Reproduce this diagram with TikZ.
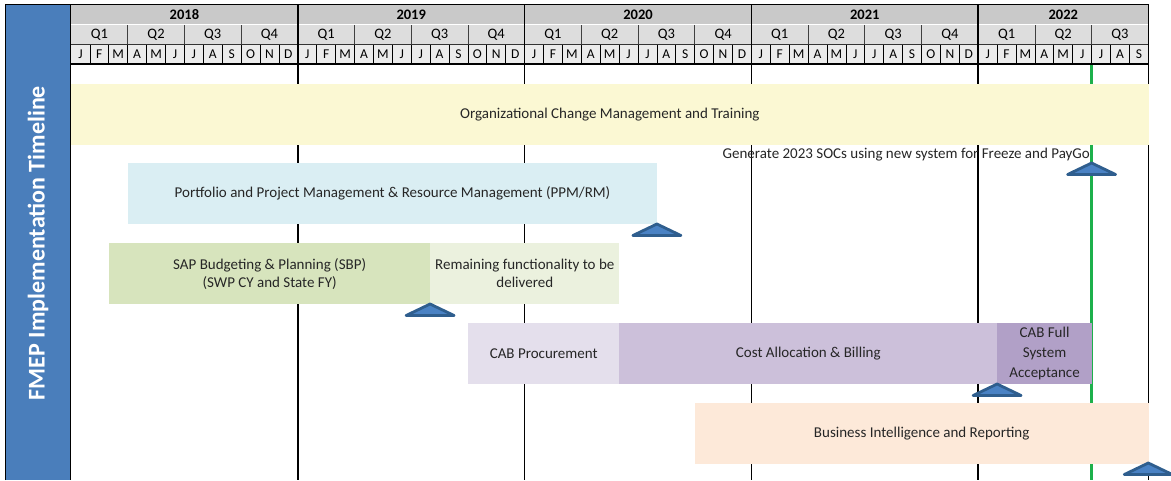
\documentclass[tikz,border=0pt]{standalone}
\usepackage{fontspec}
\setmainfont{Carlito}
\begin{document}
\begin{tikzpicture}[x=1pt,y=-1pt,
  bar/.style={draw=none,inner sep=0pt,font=\fontsize{15}{18}\selectfont,align=center,text=black!85},
  hdr/.style={inner sep=0pt,font=\fontsize{14.5}{16}\selectfont},
  ylab/.style={inner sep=0pt,font=\fontsize{14.5}{16}\selectfont\bfseries},
  mlab/.style={inner sep=0pt,font=\fontsize{13.5}{15}\selectfont},
  ms/.style={draw=msline,fill=msfill,line width=2.8pt,line join=round}
]
\definecolor{band}{HTML}{4A7EBB}
\definecolor{ocm}{HTML}{FBF8D3}
\definecolor{ppm}{HTML}{DAEEF3}
\definecolor{sbp}{HTML}{D7E4BD}
\definecolor{rem}{HTML}{EBF1DE}
\definecolor{cabp}{HTML}{E4DFEC}
\definecolor{cost}{HTML}{CCC0DA}
\definecolor{full}{HTML}{B1A0C7}
\definecolor{bi}{HTML}{FDE9D9}
\definecolor{msline}{HTML}{2F5E8E}
\definecolor{msfill}{HTML}{4A82C4}
\definecolor{yrow}{HTML}{C9C9C9}
\definecolor{qrow}{HTML}{DDDDDD}
\definecolor{mrow}{HTML}{EBEBEB}
\definecolor{gline}{HTML}{1DB04B}
\newcommand\mlett[1]{\ifcase#1 J\or F\or M\or A\or M\or J\or J\or A\or S\or O\or N\or D\fi}
\def\mw{18.9}
\def\xo{71}
\useasboundingbox (0,0) rectangle (1171,480);
\fill[white] (0,0) rectangle (1171,480);
% left band
\fill[band] (6,4) rectangle (70.5,480);
\node[rotate=90,text=white,inner sep=0pt,font=\fontsize{24}{28}\selectfont\bfseries] (title) at (38,243) {FMEP Implementation Timeline};
% header fills
\fill[yrow] (\xo,4) rectangle (1148.3,24);
\fill[qrow] (\xo,24) rectangle (1148.3,44);
\fill[mrow] (\xo,44) rectangle (1148.3,64);
% year labels
\foreach \yr [count=\i from 0] in {2018,2019,2020,2021}
  \node[ylab] (y\i) at ({\xo+(\i*12+6)*\mw},15) {\yr};
\node[ylab] (y4) at ({\xo+(48+4.5)*\mw},15) {2022};
% quarter labels
\foreach \i in {0,...,18}{
  \pgfmathtruncatemacro{\q}{mod(\i,4)+1}
  \node[hdr] (q\i) at ({\xo+(\i*3+1.5)*\mw},34.5) {Q\q};
}
% months
\foreach \i in {0,...,56}{
  \pgfmathtruncatemacro{\k}{mod(\i,12)}
  \node[mlab] (m\i) at ({\xo+(\i+0.5)*\mw},54.5) {\mlett{\k}};
}
% header lines
\foreach \i in {1,...,56}
  \draw[black,line width=0.8pt] ({\xo+\i*\mw},44) -- ({\xo+\i*\mw},64);
\foreach \i in {1,...,18}
  \draw[black!75,line width=0.8pt] ({\xo+\i*3*\mw},24) -- ({\xo+\i*3*\mw},44);
\draw[white,line width=0.8pt] (\xo,24) -- (1148.3,24);
\draw[black!80,line width=1pt] (\xo,44) -- (1148.3,44);
% vertical year lines
\foreach \i in {1,...,4}
  \draw[black,line width=1.6pt] ({\xo+\i*12*\mw},4) -- ({\xo+\i*12*\mw},480);
\draw[black,line width=1.6pt] (1148.3,4) -- (1148.3,480);
% green today line
\draw[gline,line width=2.6pt] (1091.6,64) -- (1091.6,480);
% bars
\node[bar,fill=ocm,minimum width=1077.3pt,minimum height=61pt,anchor=north west] (ocmb) at (\xo,84) {Organizational Change Management and Training};
\node[bar,fill=ppm,minimum width=529.2pt,minimum height=61pt,anchor=north west] (ppmb) at (127.7,163) {Portfolio and Project Management \& Resource Management (PPM/RM)};
\node[bar,fill=sbp,minimum width=321.3pt,minimum height=61pt,anchor=north west] (sbpb) at (108.8,243) {SAP Budgeting \& Planning (SBP)\\(SWP CY and State FY)};
\node[bar,fill=rem,minimum width=189pt,minimum height=61pt,anchor=north west] (remb) at (430.1,243) {Remaining functionality to be\\delivered};
\node[bar,fill=cabp,minimum width=151.2pt,minimum height=61pt,anchor=north west] (cabb) at (467.9,323) {CAB Procurement};
\node[bar,fill=cost,minimum width=378pt,minimum height=61pt,anchor=north west] (costb) at (619.1,323) {Cost Allocation \& Billing};
\node[bar,fill=full,minimum width=94.5pt,minimum height=61pt,anchor=north west,font=\fontsize{15}{20}\selectfont] (fullb) at (997.1,323) {CAB Full\\System\\Acceptance};
\node[bar,anchor=east] (soc) at (1090,155) {Generate 2023 SOCs using new system for Freeze and PayGo};
\node[bar,fill=bi,minimum width=453.6pt,minimum height=61pt,anchor=north west] (bib) at (694.7,403) {Business Intelligence and Reporting};
% outer frame lines
\draw[black,line width=1.8pt] (5.5,480) -- (5.5,4.5) -- (1148.3,4.5);
\draw[black,line width=1.6pt] (70.5,4) -- (70.5,480);
\draw[black,line width=2pt] (70.5,64) -- (1148.3,64);
% milestones
\foreach \x/\t/\n in {1091.6/163/ms1, 656.9/224/ms2, 430.1/304/ms3, 997.1/384/ms4, 1148.3/463/ms5}{
  \coordinate (\n) at (\x,\t);
  \draw[ms] (\n) -- ++(24,11.5) -- ++(-48,0) -- cycle;
}
\end{tikzpicture}
\end{document}
